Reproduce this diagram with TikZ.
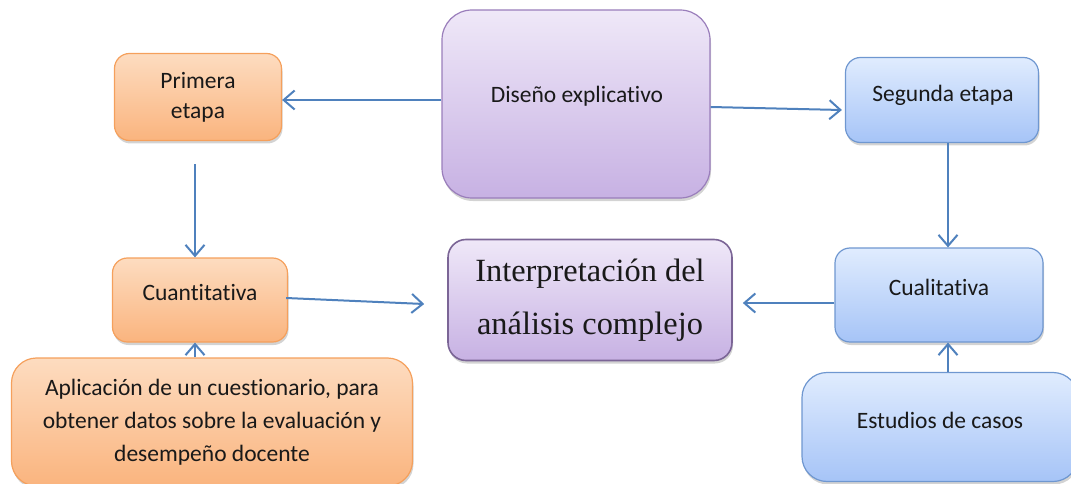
\documentclass[tikz,border=0pt]{standalone}
\usepackage{fontspec}
\setmainfont{Carlito}[Ligatures=NoCommon]
\newfontfamily\tiempos{Liberation Serif}
\usetikzlibrary{arrows.meta,shadows}
\definecolor{naranjaA}{HTML}{FDDCC0}
\definecolor{naranjaB}{HTML}{FAB47E}
\definecolor{naranjaL}{HTML}{F5A05C}
\definecolor{moradoA}{HTML}{EFE8F8}
\definecolor{moradoB}{HTML}{C7B1E3}
\definecolor{moradoL}{HTML}{9A7EBB}
\definecolor{azulA}{HTML}{E0ECFE}
\definecolor{azulB}{HTML}{A6C4F7}
\definecolor{azulL}{HTML}{6F97D0}
\definecolor{flechaC}{HTML}{4F81BD}
\tikzstyle{every node}=[font=\fontsize{23.5}{30}\selectfont,text=black!90]
\tikzstyle{caja}=[rounded corners=15pt,line width=1.2pt,align=center,
  drop shadow={opacity=0.35,shadow xshift=1pt,shadow yshift=-3pt}]
\tikzstyle{naranja}=[caja,draw=naranjaL,top color=naranjaA,bottom color=naranjaB]
\tikzstyle{morado}=[caja,draw=moradoL,top color=moradoA,bottom color=moradoB]
\tikzstyle{azul}=[caja,draw=azulL,top color=azulA,bottom color=azulB]
\tikzstyle{flecha}=[draw=flechaC,line width=2pt,-{Straight Barb[length=11pt,width=19pt,line width=2pt]}]

\begin{document}
\begin{tikzpicture}[x=1pt,y=-1pt]
  \useasboundingbox (0,0) rectangle (1071,484);
  % cajas
  \node[morado,rounded corners=30pt,minimum width=268pt,minimum height=188pt] (diseno) at (576,104) {};
  \node (disenotxt) at (577,96) {Diseño explicativo};
  \node[naranja,minimum width=167pt,minimum height=87pt] (primera) at (198,97) {Primera\\etapa};
  \node[azul,minimum width=193pt,minimum height=85pt] (segunda) at (942,100) {};
  \node (segundatxt) at (943,95) {Segunda etapa};
  \node[naranja,minimum width=175pt,minimum height=84pt] (cuant) at (200,300) {};
  \node (cuanttxt) at (200,293) {Cuantitativa};
  \node[morado,draw=moradoL!80!black,line width=1.6pt,rounded corners=18pt,
        minimum width=284pt,minimum height=121pt,
        font=\tiempos\fontsize{32.4}{53}\selectfont] (interp) at (590,300) {Interpretación del\\análisis complejo};
  \node[azul,minimum width=208pt,minimum height=94pt] (cuali) at (939,295) {};
  \node (cualitxt) at (939,287) {Cualitativa};
  \node[naranja,rounded corners=25pt,minimum width=401pt,minimum height=128pt,
        font=\fontsize{23.5}{33}\selectfont] (aplic) at (212,422)
    {Aplicación de un cuestionario, para\\obtener datos sobre la evaluación y\\desempeño docente};
  \node[azul,rounded corners=25pt,minimum width=276pt,minimum height=109pt] (estudios) at (940,427) {};
  \node (estudiostxt) at (940,420) {Estudios de casos};
  % flechas
  \draw[flecha] (diseno.west |- 0,100) -- (primera.east |- 0,100);
  \draw[flecha] ([yshift=-3pt]diseno.east) -- ([xshift=-3pt,yshift=-10pt]segunda.west);
  \draw[flecha] ([xshift=-3pt,yshift=-23pt]primera.south) -- ([xshift=-5pt]cuant.north);
  \draw[flecha] ([xshift=6pt]segunda.south) -- ([xshift=9pt]cuali.north);
  \draw[flecha] ([xshift=-2pt,yshift=2pt]cuant.east) -- ([xshift=-23pt,yshift=-4pt]interp.west);
  \draw[flecha] ([yshift=-8pt]cuali.west) -- ([xshift=10pt,yshift=-3pt]interp.east);
  \draw[flecha] ([xshift=-17pt]aplic.north) -- ([xshift=-5pt]cuant.south);
  \draw[flecha] ([xshift=8pt]estudios.north) -- ([xshift=9pt]cuali.south);
\end{tikzpicture}
\end{document}
